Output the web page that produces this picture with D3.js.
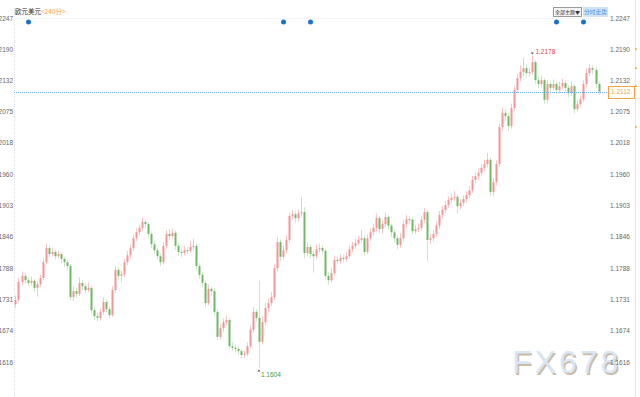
<!DOCTYPE html>
<html>
<head>
<meta charset="utf-8">
<script src="https://cdn.jsdelivr.net/npm/d3@7"></script>
<style>
  html, body { margin: 0; padding: 0; background: #fff; }
  svg { display: block; font-family: "Liberation Sans", Arial, sans-serif; }
  .axis text { fill: #666; font-size: 6.5px; }
</style>
</head>
<body>
<div id="chart"></div>
<script>
// EUR/USD 240 min candles
var symbolName = '欧元美元';
var periodName = '<240分>';
var lastPrice = 1.2112;

var open = [
1.1722,1.1730,1.1763,1.1774,1.1766,1.1761,1.1765,1.1752,1.1759,1.1770,
1.1799,1.1825,1.1814,1.1818,1.1810,1.1814,1.1805,1.1799,1.1792,1.1735,
1.1746,1.1741,1.1761,1.1755,1.1748,1.1752,1.1711,1.1700,1.1697,1.1708,
1.1726,1.1713,1.1702,1.1748,1.1785,1.1774,1.1777,1.1799,1.1812,1.1825,
1.1843,1.1854,1.1862,1.1873,1.1869,1.1851,1.1832,1.1821,1.1810,1.1799,
1.1829,1.1851,1.1847,1.1853,1.1829,1.1818,1.1816,1.1821,1.1820,1.1827,
1.1829,1.1792,1.1776,1.1761,1.1724,1.1750,1.1746,1.1708,1.1662,1.1678,
1.1689,1.1693,1.1645,1.1642,1.1640,1.1636,1.1629,1.1631,1.1645,1.1675,
1.1708,1.1697,1.1653,1.1689,1.1715,1.1724,1.1735,1.1788,1.1836,1.1809,
1.1821,1.1840,1.1884,1.1887,1.1880,1.1889,1.1891,1.1816,1.1827,1.1814,
1.1810,1.1823,1.1825,1.1820,1.1774,1.1766,1.1779,1.1803,1.1801,1.1807,
1.1805,1.1810,1.1823,1.1829,1.1834,1.1840,1.1843,1.1818,1.1843,1.1854,
1.1862,1.1880,1.1860,1.1869,1.1882,1.1866,1.1854,1.1843,1.1831,1.1843,
1.1869,1.1878,1.1877,1.1856,1.1860,1.1862,1.1877,1.1891,1.1840,1.1843,
1.1851,1.1866,1.1886,1.1895,1.1904,1.1913,1.1917,1.1919,1.1902,1.1908,
1.1915,1.1922,1.1931,1.1950,1.1957,1.1963,1.1972,1.1979,1.1987,1.1928,
1.1946,1.1979,1.2047,1.2073,1.2067,1.2049,1.2082,1.2115,1.2137,1.2148,
1.2155,1.2146,1.2148,1.2166,1.2133,1.2126,1.2133,1.2097,1.2126,1.2119,
1.2126,1.2115,1.2122,1.2128,1.2119,1.2109,1.2122,1.2080,1.2089,1.2098,
1.2126,1.2146,1.2155,1.2152,1.2126
];

var high = [
1.1738,1.1770,1.1782,1.1779,1.1771,1.1773,1.1768,1.1764,1.1776,1.1806,
1.1833,1.1830,1.1826,1.1822,1.1820,1.1817,1.1809,1.1803,1.1795,1.1755,
1.1752,1.1772,1.1766,1.1760,1.1762,1.1755,1.1716,1.1706,1.1714,1.1735,
1.1731,1.1718,1.1755,1.1792,1.1790,1.1783,1.1805,1.1820,1.1831,1.1850,
1.1861,1.1868,1.1881,1.1877,1.1873,1.1856,1.1838,1.1825,1.1815,1.1836,
1.1858,1.1860,1.1861,1.1857,1.1834,1.1824,1.1829,1.1827,1.1838,1.1842,
1.1833,1.1797,1.1782,1.1765,1.1758,1.1754,1.1750,1.1712,1.1686,1.1696,
1.1701,1.1697,1.1652,1.1648,1.1645,1.1640,1.1637,1.1652,1.1682,1.1717,
1.1713,1.1765,1.1700,1.1724,1.1733,1.1744,1.1795,1.1845,1.1841,1.1830,
1.1848,1.1890,1.1895,1.1893,1.1896,1.1919,1.1900,1.1835,1.1832,1.1820,
1.1831,1.1833,1.1830,1.1824,1.1780,1.1788,1.1811,1.1809,1.1814,1.1812,
1.1817,1.1830,1.1836,1.1842,1.1847,1.1858,1.1848,1.1850,1.1861,1.1869,
1.1888,1.1884,1.1877,1.1890,1.1886,1.1870,1.1858,1.1848,1.1852,1.1876,
1.1886,1.1884,1.1881,1.1867,1.1870,1.1884,1.1898,1.1895,1.1851,1.1858,
1.1874,1.1893,1.1903,1.1911,1.1920,1.1925,1.1930,1.1923,1.1915,1.1922,
1.1929,1.1939,1.1957,1.1965,1.1971,1.1979,1.1987,1.1999,1.1991,1.1953,
1.1986,1.2054,1.2083,1.2080,1.2072,1.2090,1.2122,1.2145,1.2160,1.2174,
1.2162,1.2156,1.2178,1.2170,1.2139,1.2141,1.2137,1.2133,1.2131,1.2134,
1.2130,1.2130,1.2136,1.2132,1.2124,1.2130,1.2126,1.2096,1.2106,1.2133,
1.2155,1.2163,1.2160,1.2156,1.2131
];

var low = [
1.1716,1.1725,1.1757,1.1760,1.1755,1.1756,1.1745,1.1736,1.1754,1.1766,
1.1795,1.1808,1.1809,1.1804,1.1806,1.1797,1.1790,1.1785,1.1729,1.1728,
1.1733,1.1737,1.1748,1.1742,1.1744,1.1705,1.1693,1.1690,1.1692,1.1703,
1.1707,1.1696,1.1699,1.1743,1.1766,1.1762,1.1772,1.1794,1.1806,1.1820,
1.1838,1.1848,1.1857,1.1861,1.1845,1.1825,1.1814,1.1803,1.1792,1.1795,
1.1824,1.1840,1.1842,1.1822,1.1811,1.1808,1.1812,1.1813,1.1816,1.1822,
1.1786,1.1769,1.1754,1.1717,1.1720,1.1738,1.1702,1.1655,1.1657,1.1671,
1.1684,1.1640,1.1636,1.1634,1.1630,1.1623,1.1624,1.1627,1.1641,1.1670,
1.1690,1.1604,1.1648,1.1683,1.1708,1.1718,1.1730,1.1782,1.1801,1.1804,
1.1815,1.1835,1.1877,1.1872,1.1874,1.1883,1.1806,1.1810,1.1806,1.1780,
1.1805,1.1817,1.1813,1.1767,1.1758,1.1762,1.1775,1.1795,1.1797,1.1799,
1.1800,1.1806,1.1818,1.1824,1.1830,1.1836,1.1811,1.1814,1.1838,1.1848,
1.1856,1.1853,1.1852,1.1863,1.1859,1.1846,1.1835,1.1823,1.1826,1.1838,
1.1863,1.1869,1.1850,1.1851,1.1854,1.1857,1.1871,1.1800,1.1833,1.1837,
1.1846,1.1860,1.1880,1.1889,1.1898,1.1907,1.1911,1.1888,1.1896,1.1902,
1.1909,1.1916,1.1926,1.1944,1.1950,1.1958,1.1966,1.1973,1.1921,1.1920,
1.1940,1.1974,1.2041,1.2058,1.2040,1.2044,1.2077,1.2109,1.2131,1.2140,
1.2139,1.2140,1.2143,1.2126,1.2118,1.2120,1.2090,1.2092,1.2112,1.2113,
1.2108,1.2109,1.2116,1.2112,1.2102,1.2104,1.2072,1.2075,1.2084,1.2093,
1.2120,1.2140,1.2144,1.2119,1.2106
];

var close = [
1.1730,1.1763,1.1774,1.1766,1.1761,1.1765,1.1752,1.1759,1.1770,1.1799,
1.1825,1.1814,1.1818,1.1810,1.1814,1.1805,1.1799,1.1792,1.1735,1.1746,
1.1741,1.1761,1.1755,1.1748,1.1752,1.1711,1.1700,1.1697,1.1708,1.1726,
1.1713,1.1702,1.1748,1.1785,1.1774,1.1777,1.1799,1.1812,1.1825,1.1843,
1.1854,1.1862,1.1873,1.1869,1.1851,1.1832,1.1821,1.1810,1.1799,1.1829,
1.1851,1.1847,1.1853,1.1829,1.1818,1.1816,1.1821,1.1820,1.1827,1.1829,
1.1792,1.1776,1.1761,1.1724,1.1750,1.1746,1.1708,1.1662,1.1678,1.1689,
1.1693,1.1645,1.1642,1.1640,1.1636,1.1629,1.1631,1.1645,1.1675,1.1708,
1.1697,1.1653,1.1689,1.1715,1.1724,1.1735,1.1788,1.1836,1.1809,1.1821,
1.1840,1.1884,1.1887,1.1880,1.1889,1.1891,1.1816,1.1827,1.1814,1.1810,
1.1823,1.1825,1.1820,1.1774,1.1766,1.1779,1.1803,1.1801,1.1807,1.1805,
1.1810,1.1823,1.1829,1.1834,1.1840,1.1843,1.1818,1.1843,1.1854,1.1862,
1.1880,1.1860,1.1869,1.1882,1.1866,1.1854,1.1843,1.1831,1.1843,1.1869,
1.1878,1.1877,1.1856,1.1860,1.1862,1.1877,1.1891,1.1840,1.1843,1.1851,
1.1866,1.1886,1.1895,1.1904,1.1913,1.1917,1.1919,1.1902,1.1908,1.1915,
1.1922,1.1931,1.1950,1.1957,1.1963,1.1972,1.1979,1.1987,1.1928,1.1946,
1.1979,1.2047,1.2073,1.2067,1.2049,1.2082,1.2115,1.2137,1.2148,1.2155,
1.2146,1.2148,1.2166,1.2133,1.2126,1.2133,1.2097,1.2126,1.2119,1.2126,
1.2115,1.2122,1.2128,1.2119,1.2109,1.2122,1.2080,1.2089,1.2098,1.2126,
1.2146,1.2155,1.2152,1.2126,1.2112
];

var tickValues = [1.2247, 1.2190, 1.2132, 1.2075, 1.2018, 1.1960, 1.1903, 1.1846, 1.1788, 1.1731, 1.1674, 1.1616];
var dotPositions = [4, 89, 98, 180, 189];   // candle index of the blue event dots

var width = 640, height = 397;
var upColor = '#f29595', upWick = '#f7c6c6';
var downColor = '#70b868', downWick = '#cde8c7';

var svg = d3.select('#chart').append('svg')
	.attr('width', width)
	.attr('height', height);

var x = d3.scaleBand()
	.domain(d3.range(close.length))
	.range([14.5, 599.5])
	.paddingInner(0.34);

var y = d3.scaleLinear()
	.domain([1.1616, 1.2247])
	.range([362, 18]);

var cx = function(i) { return x(i) + x.bandwidth() / 2; };

// frame lines
svg.append('line')
	.attr('x1', 14.5).attr('x2', 14.5).attr('y1', 8).attr('y2', height)
	.attr('stroke', '#d8dde6').attr('stroke-dasharray', '1,1');
svg.append('line')
	.attr('x1', 14).attr('x2', 600).attr('y1', y(1.2247) + 0.5).attr('y2', y(1.2247) + 0.5)
	.attr('stroke', '#e6e9ee').attr('stroke-dasharray', '1,1');
svg.append('line')
	.attr('x1', 635.5).attr('x2', 635.5).attr('y1', 0).attr('y2', height)
	.attr('stroke', '#e4e4e4');

// little orange marks on the right edge
[1.2190, 1.2155, 1.2122, 1.2047].forEach(function(v) {
	svg.append('line')
		.attr('x1', 635).attr('x2', 637).attr('y1', y(v)).attr('y2', y(v))
		.attr('stroke', '#f5a442').attr('stroke-width', 1.5);
});

// watermark
var wm = svg.append('g').attr('font-family', '"Liberation Sans", Arial, sans-serif')
	.attr('font-size', 32).attr('letter-spacing', 3);
wm.append('text').attr('x', 513.5).attr('y', 374.5).text('FX678').attr('fill', '#cdbca5');
wm.append('text').attr('x', 512).attr('y', 373).text('FX678').attr('fill', '#d8e7f8');

// candles
var candles = svg.append('g').selectAll('g')
	.data(close)
	.join('g');

candles.append('line')
	.attr('x1', function(d, i) { return Math.round(cx(i)) + 0.5; })
	.attr('x2', function(d, i) { return Math.round(cx(i)) + 0.5; })
	.attr('y1', function(d, i) { return y(high[i]); })
	.attr('y2', function(d, i) { return y(low[i]); })
	.attr('stroke', function(d, i) { return close[i] >= open[i] ? upWick : downWick; });

candles.append('rect')
	.attr('x', function(d, i) { return Math.round(cx(i)) - 0.5; })
	.attr('width', 2)
	.attr('y', function(d, i) { return y(Math.max(open[i], close[i])); })
	.attr('height', function(d, i) { return Math.max(1, Math.abs(y(open[i]) - y(close[i]))); })
	.attr('fill', function(d, i) { return close[i] >= open[i] ? upColor : downColor; });

// current price line and box
svg.append('line')
	.attr('x1', 14).attr('x2', 607)
	.attr('y1', Math.round(y(lastPrice)) + 0.5).attr('y2', Math.round(y(lastPrice)) + 0.5)
	.attr('stroke', '#6eaee8').attr('stroke-dasharray', '1,1');
svg.append('rect')
	.attr('x', 608.5).attr('y', Math.round(y(lastPrice)) - 5.5)
	.attr('width', 26).attr('height', 12)
	.attr('fill', '#fff').attr('stroke', '#f5a442');
svg.append('text')
	.attr('x', 611).attr('y', y(lastPrice) + 2.8)
	.attr('font-size', 6.5).attr('fill', '#f5a442')
	.text(d3.format('.4f')(lastPrice));

// high / low markers
var iMax = d3.maxIndex(high), iMin = d3.minIndex(low);
svg.append('path')
	.attr('d', 'M' + (cx(iMax) - 1.5) + ',' + (y(high[iMax]) - 3) + 'h3l-1.5,2z')
	.attr('fill', '#555');
svg.append('text')
	.attr('x', cx(iMax) + 3).attr('y', y(high[iMax]) - 2)
	.attr('font-size', 6.5).attr('fill', '#e0443e')
	.text(d3.format('.4f')(high[iMax]));
svg.append('path')
	.attr('d', 'M' + (cx(iMin) - 1.5) + ',' + (y(low[iMin]) + 3) + 'h3l-1.5,-2z')
	.attr('fill', '#555');
svg.append('text')
	.attr('x', cx(iMin) + 2).attr('y', y(low[iMin]) + 8)
	.attr('font-size', 6.5).attr('fill', '#3f9b3f')
	.text(d3.format('.4f')(low[iMin]));

// axes
var fmt = d3.format('.4f');
svg.append('g')
	.attr('class', 'axis')
	.attr('transform', 'translate(13,0)')
	.call(d3.axisLeft(y).tickValues(tickValues).tickFormat(fmt).tickSize(0).tickPadding(0))
	.call(function(g) { g.select('.domain').remove(); });
svg.append('g')
	.attr('class', 'axis')
	.attr('transform', 'translate(610,0)')
	.call(d3.axisRight(y).tickValues(tickValues).tickFormat(fmt).tickSize(0).tickPadding(0))
	.call(function(g) { g.select('.domain').remove(); });

// header
var head = svg.append('text').attr('x', 15).attr('y', 13.5)
	.attr('font-family', '"Noto Sans CJK SC", sans-serif').attr('font-size', 6.5);
head.append('tspan').attr('fill', '#333').text(symbolName);
head.append('tspan').attr('fill', '#f5a442').text(periodName);

svg.append('g').selectAll('circle')
	.data(dotPositions)
	.join('circle')
	.attr('cx', function(d) { return Math.round(cx(d)) + 0.5; })
	.attr('cy', 22)
	.attr('r', 2.5)
	.attr('fill', '#1c72c9');

// buttons top right
svg.append('rect')
	.attr('x', 553.5).attr('y', 7.5).attr('width', 28).attr('height', 9)
	.attr('fill', '#f4f4f4').attr('stroke', '#9a9a9a');
svg.append('text')
	.attr('x', 555).attr('y', 14.3)
	.attr('font-family', '"Noto Sans CJK SC", sans-serif').attr('font-size', 5)
	.attr('textLength', 25).attr('lengthAdjust', 'spacingAndGlyphs').attr('fill', '#333')
	.text('全部主题▼');
svg.append('rect')
	.attr('x', 583).attr('y', 7).attr('width', 25).attr('height', 10)
	.attr('fill', '#d3e4f7');
svg.append('text')
	.attr('x', 584).attr('y', 14.3)
	.attr('font-family', '"Noto Sans CJK SC", sans-serif').attr('font-size', 5.5)
	.attr('textLength', 23).attr('lengthAdjust', 'spacingAndGlyphs').attr('fill', '#3d8ee0')
	.text('分时走势');
</script>
</body>
</html>
